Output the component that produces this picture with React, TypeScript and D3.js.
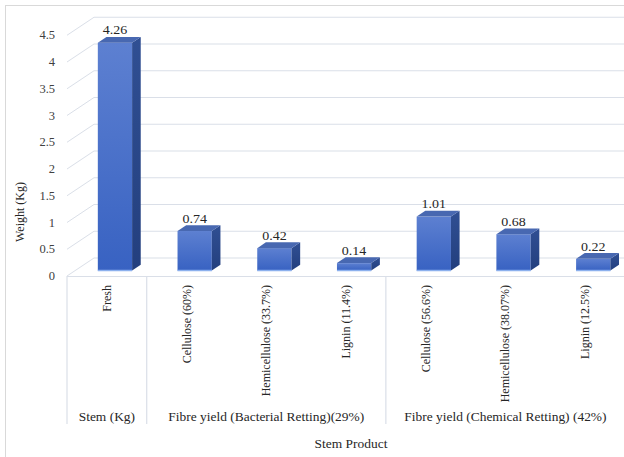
import React from "react";
import * as d3 from "d3";

const categories = [
  "Fresh",
  "Cellulose (60%)",
  "Hemicellulose (33.7%)",
  "Lignin (11.4%)",
  "Cellulose (56.6%)",
  "Hemicellulose (38.07%)",
  "Lignin (12.5%)",
];
const values = [4.26, 0.74, 0.42, 0.14, 1.01, 0.68, 0.22];
const labels = ["4.26", "0.74", "0.42", "0.14", "1.01", "0.68", "0.22"];
const groups = [
  { name: "Stem (Kg)", start: 0, end: 0 },
  { name: "Fibre yield (Bacterial Retting)(29%)", start: 1, end: 3 },
  { name: "Fibre yield (Chemical Retting) (42%)", start: 4, end: 6 },
];
const yTicks = [0, 0.5, 1, 1.5, 2, 2.5, 3, 3.5, 4, 4.5];

const W = 624;
const H = 457;
const FONT = "Liberation Serif, Times New Roman, serif";
const SX = 1.12;

export default function App() {
  const x = d3.scaleBand<string>().domain(categories).range([67, 625]).padding(0);
  const y = d3.scaleLinear().domain([0, 4.5]).range([276, 35.25]);
  const DX = 27;
  const DY = -18;
  const f1 = 0.3;
  const f2 = 0.62;
  const bw = x.bandwidth() * 0.43;
  const gridColor = "#dadfe8";
  const textColor = "#262626";
  const ts: React.CSSProperties = { fontFamily: FONT };

  return (
    <svg
      width={W}
      height={H}
      style={{ position: "absolute", left: 0, top: 0, background: "#fff", fontFamily: FONT }}
    >
      <defs>
        <linearGradient id="front" x1="0" y1="0" x2="0" y2="1">
          <stop offset="0%" stopColor="#5d80d1" />
          <stop offset="100%" stopColor="#3862c2" />
        </linearGradient>
        <linearGradient id="side" x1="0" y1="0" x2="0" y2="1">
          <stop offset="0%" stopColor="#304f93" />
          <stop offset="100%" stopColor="#233f7e" />
        </linearGradient>
      </defs>
      <rect x={5.5} y={5.5} width={W + 20} height={H + 20} fill="#fff" stroke="#d9d9d9" />
      {yTicks.map((t) => (
        <g key={t}>
          <line x1={67} y1={y(t)} x2={67 + DX} y2={y(t) + DY} stroke={gridColor} strokeWidth={1} />
          <line x1={67 + DX} y1={y(t) + DY} x2={W + 10} y2={y(t) + DY} stroke={gridColor} strokeWidth={1.2} />
          <text x={55} y={y(t) + 4} textAnchor="end" fontSize={12.5} fill="#404040" style={ts}>
            {String(t)}
          </text>
        </g>
      ))}
      <line x1={67} y1={276.5} x2={W + 10} y2={276.5} stroke={gridColor} strokeWidth={1.2} />
      {categories.map((c, i) => {
        const cx = x(c)! + x.bandwidth() / 2;
        const x0 = cx - bw / 2 + f1 * DX;
        const x1 = x0 + bw;
        const yb = y(0) + f1 * DY;
        const yt = y(values[i]) + f1 * DY;
        const ddx = (f2 - f1) * DX;
        const ddy = (f2 - f1) * DY;
        return (
          <g key={c}>
            <rect x={x0} y={yt} width={bw} height={yb - yt} fill="url(#front)" />
            <path
              d={`M${x1},${yt} L${x1 + ddx},${yt + ddy} L${x1 + ddx},${yb + ddy} L${x1},${yb} Z`}
              fill="url(#side)"
            />
            <path
              d={`M${x0},${yt} L${x0 + ddx},${yt + ddy} L${x1 + ddx},${yt + ddy} L${x1},${yt} Z`}
              fill="#4868b1"
            />
            <line x1={x0} y1={yb} x2={x1} y2={yb} stroke="#8db1ee" strokeWidth={1.5} />
            <text
              transform={`translate(${x0 + bw / 2},${yt + ddy - 2.5}) scale(${SX},1)`}
              textAnchor="middle"
              fontSize={12.5}
              fill={textColor}
              style={ts}
            >
              {labels[i]}
            </text>
            <text
              transform={`translate(${cx + 4},${285}) rotate(-90)`}
              textAnchor="end"
              fontSize={12}
              fill={textColor}
              style={ts}
            >
              {c}
            </text>
          </g>
        );
      })}
      {[0, 1, 4].map((i) => (
        <line
          key={i}
          x1={x(categories[i])!}
          y1={276}
          x2={x(categories[i])!}
          y2={424}
          stroke={gridColor}
          strokeWidth={1.2}
        />
      ))}
      {groups.map((g) => {
        const a = x(categories[g.start])!;
        const b = x(categories[g.end])! + x.bandwidth();
        return (
          <text
            key={g.name}
            transform={`translate(${(a + b) / 2},${421}) scale(${SX},1)`}
            textAnchor="middle"
            fontSize={12}
            fill={textColor}
            style={ts}
          >
            {g.name}
          </text>
        );
      })}
      <text
        transform={`translate(351,448) scale(${SX},1)`}
        textAnchor="middle"
        fontSize={12}
        fill={textColor}
        style={ts}
      >
        Stem Product
      </text>
      <text
        transform={`translate(24,212) rotate(-90)`}
        textAnchor="middle"
        fontSize={12}
        fill={textColor}
        style={ts}
      >
        Weight (Kg)
      </text>
    </svg>
  );
}
